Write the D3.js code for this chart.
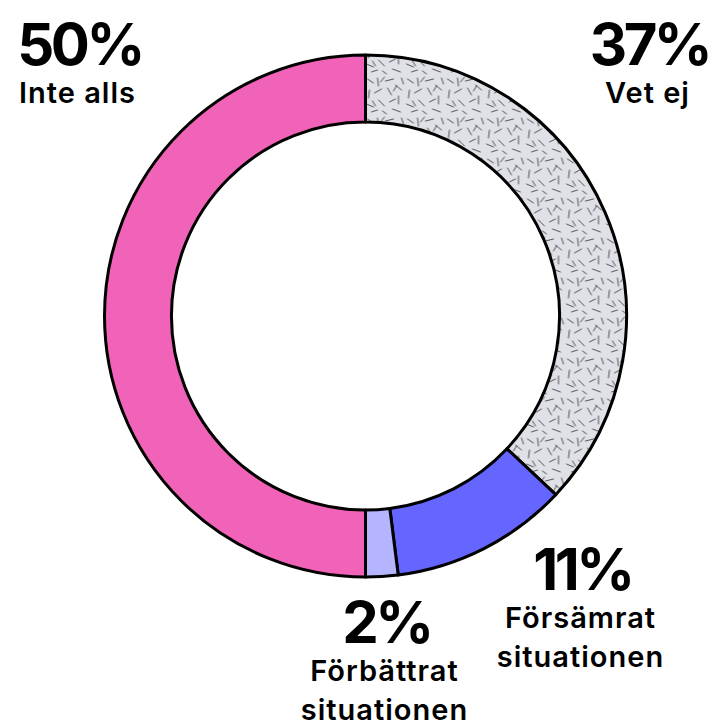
<!DOCTYPE html>
<html><head><meta charset="utf-8">
<script src="https://cdn.jsdelivr.net/npm/d3@7"></script>
<style>
html,body{margin:0;padding:0;background:#fff;}
svg{display:block;}
text{font-family:Inter,"Noto Sans",sans-serif;fill:#000;}
</style></head>
<body>
<svg id="chart" width="713" height="726"></svg>
<script>
const categories = ["Vet ej", "Försämrat situationen", "Förbättrat situationen", "Inte alls"];
const values = [37, 11, 2, 50];
const labelLines = [["Vet ej"], ["Försämrat", "situationen"], ["Förbättrat", "situationen"], ["Inte alls"]];
const colors = ["url(#texture)", "#6565ff", "#b5b5ff", "#f063b8"];
const labelPos = [[648, 65], [581, 590], [385, 643], [78, 65]];

const svg = d3.select("#chart");
const cx = 365.5, cy = 316, rOuter = 261, rInner = 194;

// texture pattern (fixed hand-placed dashes)
const dashes = [
  [2,3,8,7],[12,2,13,10],[20,5,28,3],[4,14,3,22],[9,17,16,13],[22,12,26,19],
  [30,9,36,14],[33,20,33,28],[1,28,8,31],[13,24,19,30],[24,26,30,23],[6,36,12,34],
  [17,35,21,38],[27,33,35,36],[36,2,38,8],[15,6,19,1],[28,15,31,10],[10,30,7,25]
];
const defs = svg.append("defs");
const pat = defs.append("pattern").attr("id","texture").attr("patternUnits","userSpaceOnUse")
  .attr("width",40).attr("height",40);
pat.append("rect").attr("width",40).attr("height",40).attr("fill","#dfe1e6");
pat.selectAll("line").data(dashes).join("line")
  .attr("x1",d=>d[0]).attr("y1",d=>d[1]).attr("x2",d=>d[2]).attr("y2",d=>d[3])
  .attr("stroke","#3f424a").attr("stroke-width",0.9).attr("stroke-linecap","round");

const pie = d3.pie().sort(null).value(d=>d)(values);
const arc = d3.arc().innerRadius(rInner).outerRadius(rOuter);

const g = svg.append("g").attr("transform",`translate(${cx},${cy})`);
g.selectAll("path").data(pie).join("path")
  .attr("d",arc)
  .attr("fill",(d,i)=>colors[i])
  .attr("stroke","#000").attr("stroke-width",3).attr("stroke-linejoin","round");

const lg = svg.append("g");
values.forEach((v,i)=>{
  const [x,y] = labelPos[i];
  lg.append("text").attr("x",x+1.5).attr("y",y).attr("text-anchor","middle")
    .attr("font-size",58).attr("font-weight",700).attr("letter-spacing",-3.5).text(v+"%");
  labelLines[i].forEach((t,j)=>{
    lg.append("text").attr("x",x-0.5).attr("y",y+38+j*38.5).attr("text-anchor","middle")
      .attr("font-size",29).attr("font-weight",600).attr("letter-spacing",1).text(t);
  });
});
</script>
</body></html>
